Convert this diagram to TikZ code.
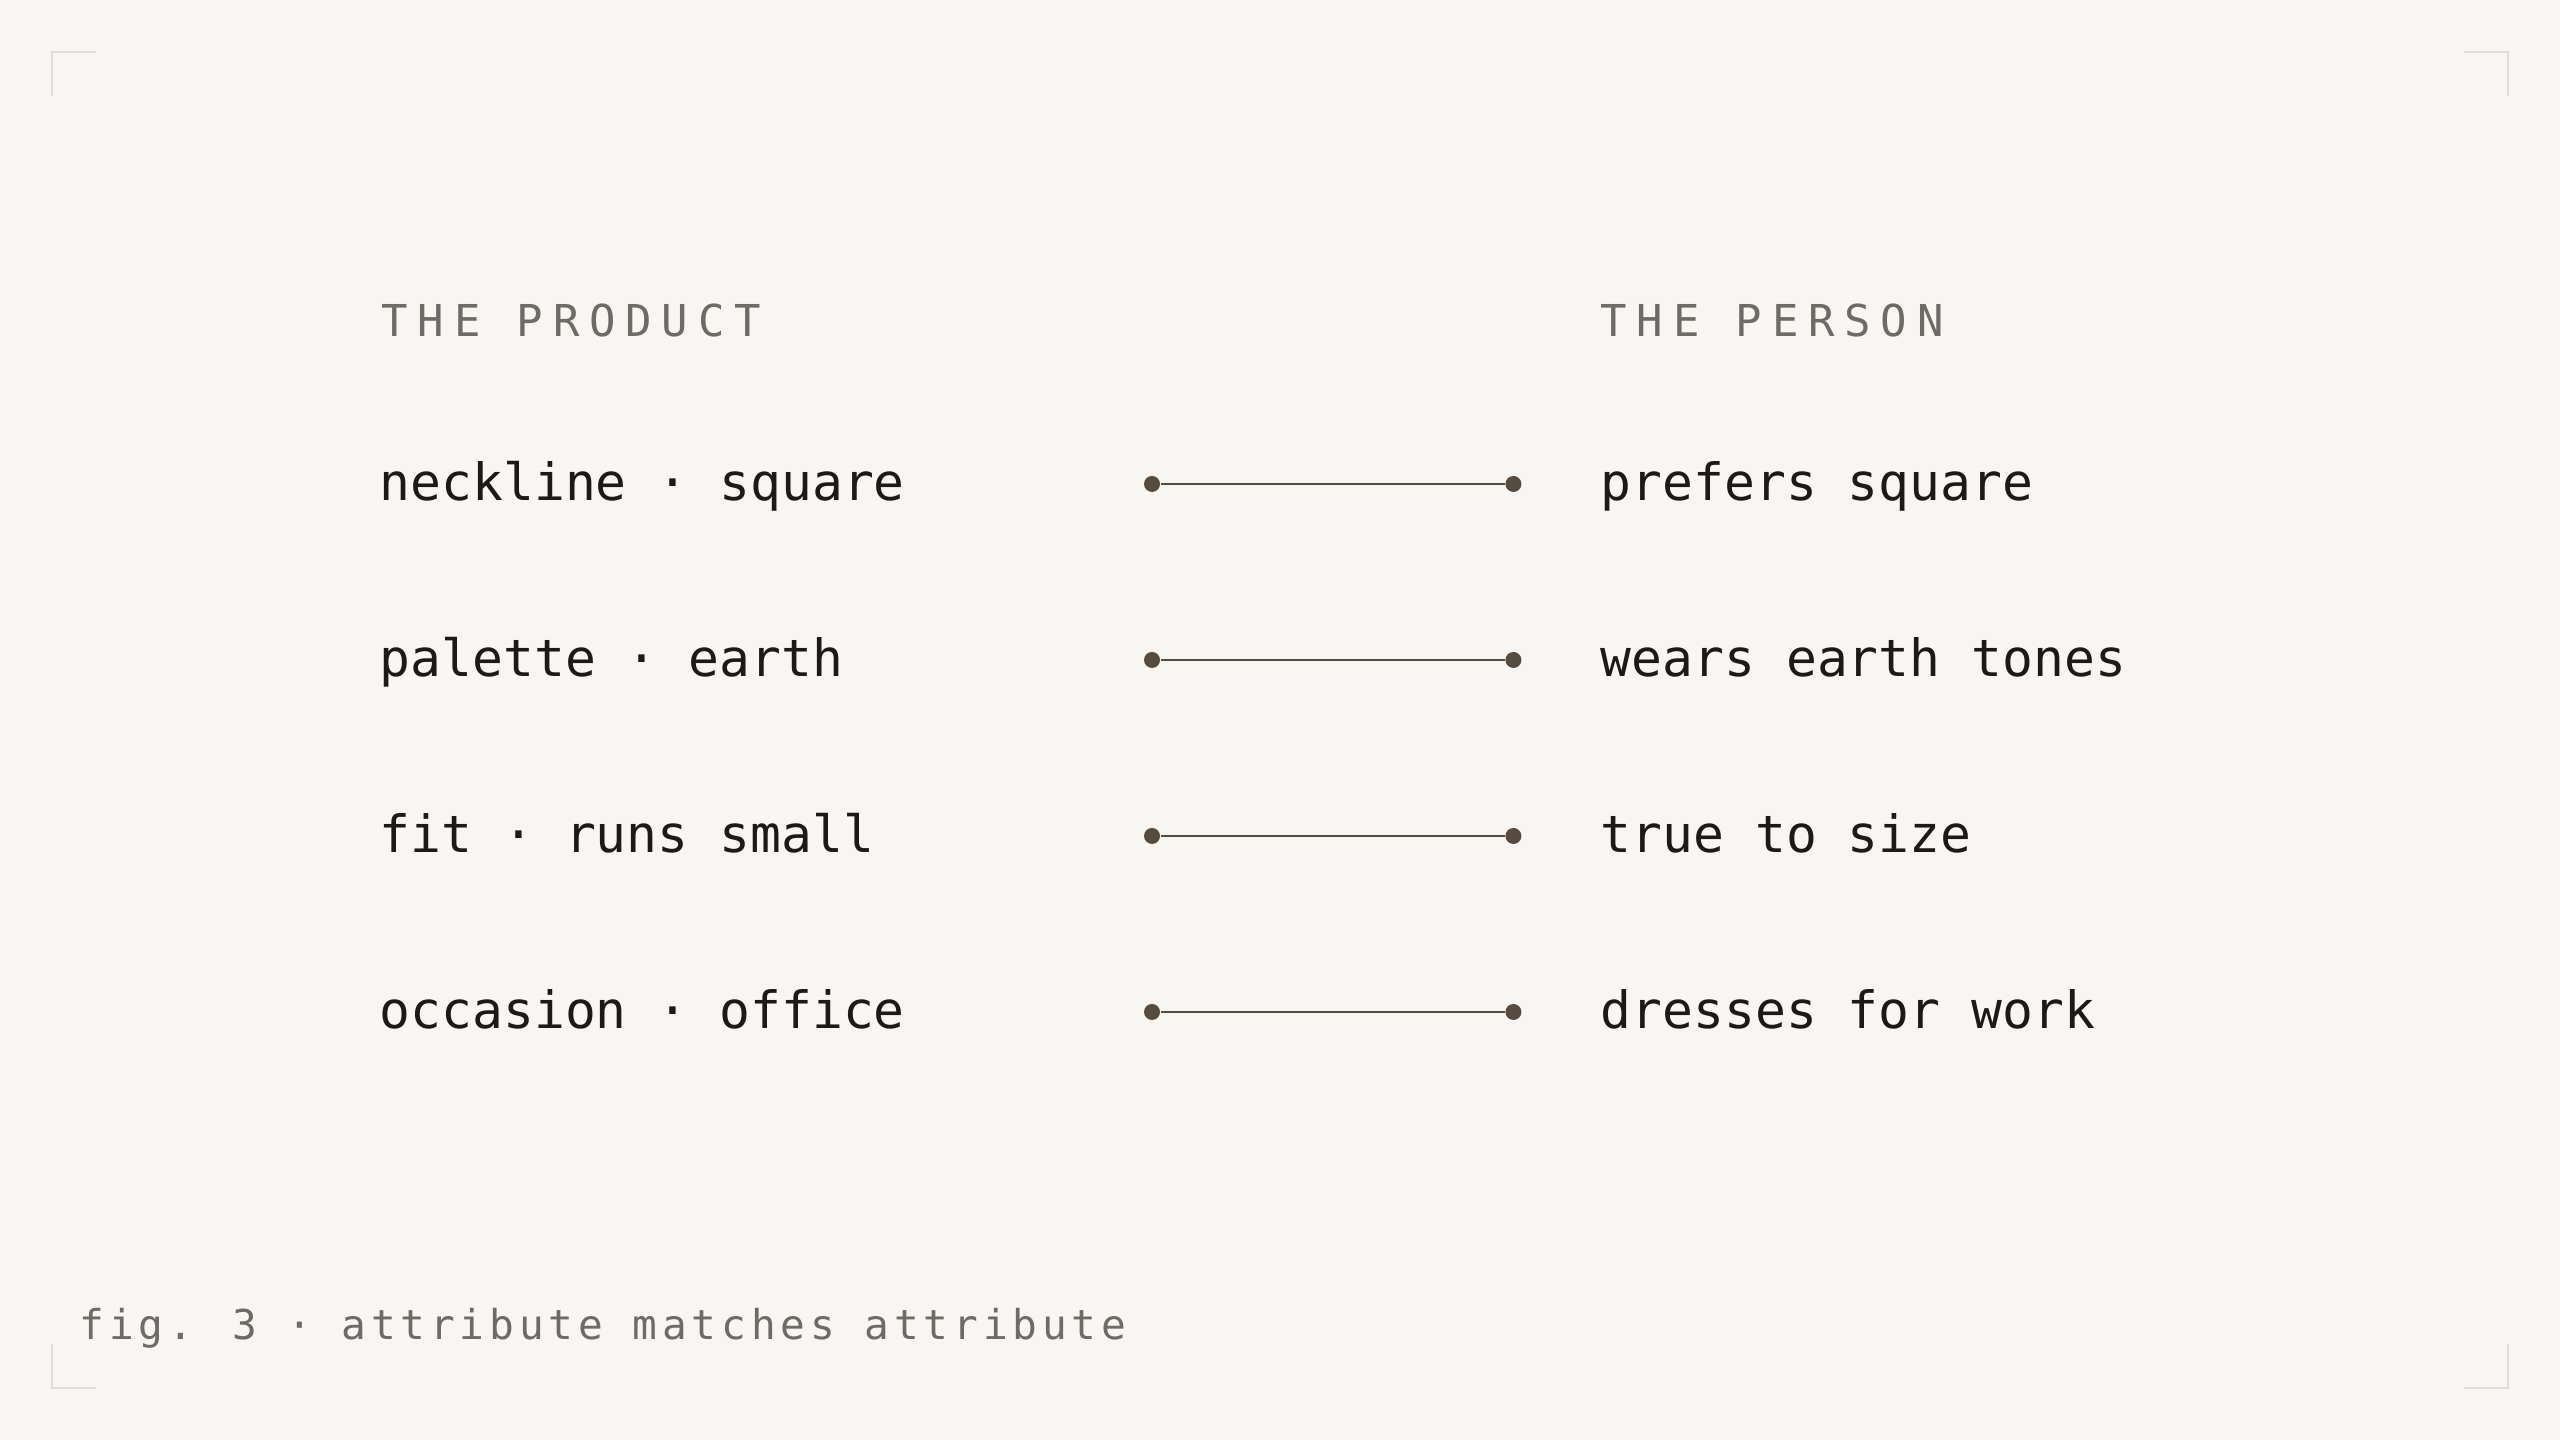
\documentclass[tikz,border=0pt]{standalone}
\usepackage{fontspec}
\setmonofont{DejaVu Sans Mono}
\newfontfamily\headfont[LetterSpace=22.3]{DejaVu Sans Mono}
\newfontfamily\capfont[LetterSpace=11.8]{DejaVu Sans Mono}
\usetikzlibrary{positioning}
\definecolor{paper}{HTML}{F7F6F2}
\definecolor{ink}{HTML}{1C1A17}
\definecolor{muted}{HTML}{6E6A64}
\definecolor{wire}{HTML}{574A3E}
\definecolor{tick}{HTML}{E0DDD8}

\begin{document}
\begin{tikzpicture}[x=0.1mm,y=0.1mm,
	attr/.style={inner sep=0pt,text=ink,font=\ttfamily\fontsize{14.6pt}{17pt}\selectfont,text height=3.8mm,text depth=0.4mm},
	head/.style={inner sep=0pt,text=muted,font=\headfont\fontsize{12.5pt}{15pt}\selectfont,anchor=base west},
	pin/.style={circle,fill=wire,inner sep=0pt,minimum size=1.6mm},
	link/.style={wire,line width=0.27mm},
	corner/.style={tick,line width=0.2mm}]
				
				% Paper
				\fill[paper] (0,0) rectangle (2560,1440);
				
				% Corner marks
				\draw[corner] (52,1344) -- (52,1388) -- (96,1388);
				\draw[corner] (2464,1388) -- (2508,1388) -- (2508,1344);
				\draw[corner] (52,96) -- (52,52) -- (96,52);
				\draw[corner] (2464,52) -- (2508,52) -- (2508,96);
				
				% Column heads
				\node[head] (product) at (381,1103) {THE PRODUCT};
				\node[head] (person) at (1600,1103) {THE PERSON};
				
				% Neckline
				\node[attr,anchor=west] (neckline) at (379,956) {neckline · square};
				\node[pin] (necklineA) at (1152,956) {};
				\node[pin,right=34.4mm of necklineA] (necklineB) {};
				\node[attr,right=7.8mm of necklineB] (prefers) {prefers square};
				\draw[link] (necklineA) -- (necklineB);
				
				% Palette
				\node[attr,anchor=west] (palette) at (379,780) {palette · earth};
				\node[pin] (paletteA) at (1152,780) {};
				\node[pin,right=34.4mm of paletteA] (paletteB) {};
				\node[attr,right=7.8mm of paletteB] (wears) {wears earth tones};
				\draw[link] (paletteA) -- (paletteB);
				
				% Fit
				\node[attr,anchor=west] (fit) at (379,604) {fit · runs small};
				\node[pin] (fitA) at (1152,604) {};
				\node[pin,right=34.4mm of fitA] (fitB) {};
				\node[attr,right=7.8mm of fitB] (truesize) {true to size};
				\draw[link] (fitA) -- (fitB);
				
				% Occasion
				\node[attr,anchor=west] (occasion) at (379,428) {occasion · office};
				\node[pin] (occasionA) at (1152,428) {};
				\node[pin,right=34.4mm of occasionA] (occasionB) {};
				\node[attr,right=7.8mm of occasionB] (dresses) {dresses for work};
				\draw[link] (occasionA) -- (occasionB);
				
				% Caption
				\node[anchor=base west,inner sep=0pt,text=muted,font=\capfont\fontsize{11.7pt}{14pt}\selectfont] (caption) at (79,100) {fig. 3 · attribute matches attribute};
				
			\end{tikzpicture}
\end{document}
